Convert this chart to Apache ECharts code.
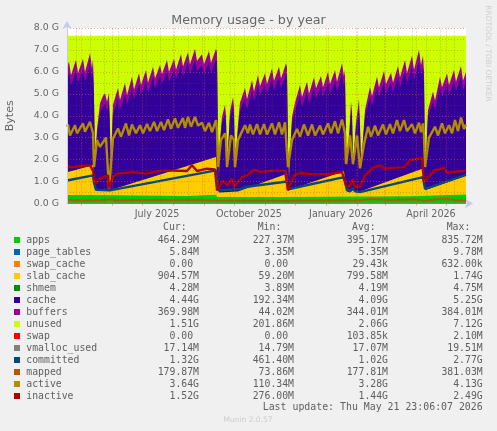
<!DOCTYPE html>
<html>
<head>
<meta charset="utf-8">
<style>
  html, body { margin: 0; padding: 0; background: #f0f0f0; }
  #chart-container { width: 497px; height: 431px; }
</style>
<script src="https://cdn.jsdelivr.net/npm/echarts@6/dist/echarts.min.js"></script>
</head>
<body>
<div id="chart-container"></div>
<script>
// all days below are counted from the left edge of the plot (17 Apr 2025)
const lastDay = 399;

// area boundaries in GiB (top edge of each coloured band)
const topDays = [
  0, 2, 4, 9, 11, 16, 18, 23, 25, 26, 27, 28, 30, 33, 36, 38, 40, 42, 43, 44, 45, 46,
  51, 53, 58, 60, 65, 67, 72, 74, 79, 81, 86, 88, 93, 95, 100, 102, 107, 109, 114, 116,
  121, 123, 128, 130, 135, 137, 142, 144, 149, 150, 151, 152, 153, 155, 158, 159, 160, 161,
  163, 166, 167, 168, 169, 171, 173, 178, 180, 185, 187, 191, 193, 198, 200, 205, 207, 212, 214,
  219, 220, 221, 222, 223, 225, 228, 233, 235, 240, 242, 247, 249, 254, 256, 261, 263, 268, 270,
  275, 277, 278, 279, 280, 281, 282, 284, 285, 286, 287, 289, 292, 293, 294, 295, 296, 298,
  303, 305, 310, 312, 317, 319, 324, 326, 331, 333, 338, 340, 345, 347, 352, 354, 356, 357,
  358, 359, 360, 361, 366, 368, 373, 375, 380, 382, 387, 389, 394, 396, 399
];
const buffersTop = [
  6.15, 6.47, 5.85, 6.55, 5.95, 6.6, 6.0, 6.85, 6.15, 6.6, 5.0, 1.85, 3.4, 4.57, 4.9, 5.02, 4.64, 5.02, 3.5, 0.8, 3.4, 4.5,
  5.26, 4.72, 5.49, 4.95, 5.78, 5.2, 5.94, 5.4, 6.08, 5.5, 6.23, 5.7, 6.31, 5.9, 6.54, 6.0, 6.6, 6.1, 6.8, 6.25,
  6.9, 6.35, 7.05, 6.5, 6.8, 6.35, 6.95, 6.4, 7.05, 6.9, 3.0, 1.0, 2.9, 3.96, 4.5, 4.0, 1.6, 1.6,
  4.2, 4.84, 4.4, 1.6, 1.6, 3.6, 4.6, 5.26, 4.75, 5.62, 5.1, 5.86, 5.35, 5.94, 5.45, 6.17, 5.6, 6.23, 5.7,
  6.39, 6.2, 2.6, 0.9, 2.3, 3.96, 4.6, 5.4, 4.85, 5.55, 5.0, 5.76, 5.25, 5.81, 5.3, 6.0, 5.45, 6.08, 5.55,
  6.39, 5.8, 6.08, 2.5, 1.7, 1.7, 3.0, 4.64, 4.2, 1.7, 1.7, 3.7, 4.76, 3.6, 1.6, 1.6, 3.0, 4.26,
  5.32, 4.9, 5.78, 5.3, 6.04, 5.45, 5.96, 5.5, 6.27, 5.75, 6.54, 5.95, 6.74, 6.1, 7.0, 6.3, 6.74, 6.0,
  1.9, 1.6, 3.2, 4.26, 5.1, 4.7, 5.78, 5.3, 5.93, 5.4, 6.08, 5.55, 6.27, 5.6, 6.0
];
const cacheTop = [
  5.7, 5.95, 5.4, 6.05, 5.5, 6.1, 5.55, 6.35, 5.7, 6.1, 4.6, 1.75, 3.15, 4.1, 4.45, 4.55, 4.2, 4.55, 3.3, 0.75, 3.2, 4.05,
  4.8, 4.25, 5.0, 4.5, 5.3, 4.75, 5.45, 4.95, 5.6, 5.05, 5.75, 5.25, 5.85, 5.45, 6.05, 5.55, 6.1, 5.65, 6.3, 5.8,
  6.4, 5.9, 6.55, 6.05, 6.3, 5.9, 6.45, 5.95, 6.55, 6.45, 2.85, 0.95, 2.7, 3.7, 4.05, 3.75, 1.55, 1.55,
  3.95, 4.4, 4.0, 1.55, 1.55, 3.35, 4.2, 4.8, 4.3, 5.15, 4.65, 5.4, 4.9, 5.45, 5.0, 5.7, 5.15, 5.75, 5.25,
  5.9, 5.75, 2.45, 0.85, 2.15, 3.7, 4.2, 4.95, 4.4, 5.1, 4.55, 5.3, 4.8, 5.35, 4.85, 5.5, 5.0, 5.6, 5.1,
  5.9, 5.35, 5.6, 2.35, 1.65, 1.65, 2.8, 4.2, 3.95, 1.65, 1.65, 3.45, 4.3, 3.4, 1.55, 1.55, 2.8, 3.95,
  4.85, 4.45, 5.3, 4.85, 5.55, 5.0, 5.5, 5.05, 5.8, 5.3, 6.05, 5.5, 6.25, 5.65, 6.5, 5.85, 6.25, 5.55,
  1.8, 1.55, 3.0, 3.95, 4.65, 4.25, 5.3, 4.85, 5.45, 4.95, 5.6, 5.1, 5.8, 5.15, 5.55
];
const slabDays = [0, 26, 27, 28, 43, 45, 149, 150, 151, 152, 171, 173, 220, 221, 223, 277, 278, 279, 293, 295, 356, 357, 358, 399];
const slabTop = [1.43, 1.74, 1.7, 0.62, 0.6, 0.55, 2.12, 2.12, 0.6, 0.5, 0.55, 0.62, 1.36, 0.6, 0.55, 1.47, 1.47, 0.65, 0.55, 0.55, 1.59, 1.59, 0.6, 1.28];
const appsDays = [0, 27, 28, 120, 121, 149, 150, 220, 221, 343, 344, 399];
const appsTop = [0.39, 0.39, 0.32, 0.34, 0.4, 0.4, 0.3, 0.3, 0.33, 0.33, 0.41, 0.41];
const unusedDays = [0, 399];
const unusedTop = [7.65, 7.65];

// bands too thin to see, they sit under apps as in the reference
const thinDays = [0, 130, 270, 399];
const pageTables = [0.005, 0.006, 0.005, 0.006];
const swapCache = [0, 0, 0, 0];
const shmem = [0.004, 0.004, 0.004, 0.004];
const swapUsed = [0, 0, 0, 0];
const vmallocUsed = [0.017, 0.017, 0.016, 0.017];

// lines
const committedDays = [0, 26, 27, 29, 43, 45, 149, 150, 152, 173, 178, 220, 221, 223, 277, 279, 280, 283, 286, 288, 293, 295, 356, 358, 399];
const committed = [1.05, 1.28, 0.95, 0.62, 0.6, 0.62, 1.51, 1.2, 0.6, 0.66, 0.75, 1.0, 0.65, 0.67, 1.2, 0.8, 0.6, 0.55, 0.7, 0.55, 0.52, 0.58, 1.2, 0.67, 1.31];
const mappedDays = [0, 13, 33, 45, 48, 73, 133, 150, 193, 221, 233, 293, 305, 325, 347, 358, 370, 383, 388, 399];
const mapped = [0.17, 0.14, 0.15, 0.19, 0.15, 0.16, 0.17, 0.12, 0.13, 0.11, 0.14, 0.15, 0.21, 0.16, 0.19, 0.13, 0.19, 0.2, 0.15, 0.13];
const activeDays = [
  0, 1, 3, 8, 10, 16, 18, 23, 26, 27, 29, 30, 33, 39, 41, 42, 43, 45, 46, 51, 54, 59, 62, 65, 69, 73, 76, 80, 83, 87, 90,
  94, 97, 101, 104, 108, 111, 116, 118, 121, 124, 128, 131, 135, 138, 142, 145, 149, 150, 151, 152, 154, 158, 159, 160, 161,
  164, 166, 167, 168, 169, 171, 178, 181, 183, 186, 190, 193, 197, 200, 205, 208, 212, 215, 218, 221, 222, 225, 230, 233, 237, 241,
  245, 248, 253, 256, 261, 264, 268, 271, 275, 278, 279, 280, 283, 285, 286, 287, 290, 292, 293, 294, 297, 301, 304, 308, 311,
  316, 319, 323, 326, 330, 333, 337, 340, 345, 348, 352, 354, 356, 357, 358, 359, 362, 368, 371, 375, 378, 382, 385, 388, 391, 394, 397, 399
];
const active = [
  3.5, 3.6, 3.1, 3.57, 3.2, 3.65, 3.27, 3.72, 3.2, 1.66, 1.66, 2.9, 2.58, 3.0, 3.0, 0.67, 0.67, 2.4, 2.96, 3.42, 3.05, 3.65, 3.1, 3.6, 3.2, 3.57, 3.2, 3.62, 3.3, 3.72, 3.3,
  3.72, 3.35, 3.83, 3.4, 3.88, 3.45, 3.9, 3.45, 3.95, 3.5, 3.95, 3.55, 3.68, 3.3, 3.68, 3.25, 3.8, 3.3, 1.66, 1.66, 2.9, 3.2, 2.9, 1.66, 1.66,
  3.1, 3.1, 2.9, 1.66, 1.66, 2.9, 3.57, 3.2, 3.6, 3.15, 3.62, 3.15, 3.62, 3.15, 3.65, 3.15, 3.7, 3.15, 3.7, 1.66, 1.66, 2.9, 3.4, 3.05, 3.6, 3.1,
  3.6, 3.1, 3.55, 3.15, 3.65, 3.2, 3.75, 3.2, 3.83, 3.2, 1.8, 1.8, 3.1, 3.1, 1.8, 1.8, 3.1, 3.1, 1.6, 1.6, 2.7, 3.5, 3.05, 3.55, 3.1,
  3.6, 3.15, 3.62, 3.2, 3.8, 3.3, 3.8, 3.3, 3.62, 3.2, 3.68, 3.25, 3.65, 3.1, 1.66, 1.66, 3.0, 3.5, 3.1, 3.65, 3.2, 3.57, 3.2, 3.8, 3.3, 3.92, 3.4, 3.6
];
const inactiveDays = [
  0, 5, 7, 13, 23, 26, 28, 33, 41, 42, 43, 46, 50, 66, 80, 93, 106, 120, 125, 130, 140, 148, 150, 156, 160, 165, 167, 175,
  180, 187, 193, 207, 218, 221, 227, 233, 247, 260, 275, 279, 282, 286, 288, 293, 298, 307, 313, 317, 337, 343, 355, 357, 367, 377, 380, 399
];
const inactive = [
  1.71, 1.65, 1.73, 1.7, 1.74, 1.5, 0.9, 1.13, 1.28, 0.7, 0.75, 1.2, 1.36, 1.43, 1.36, 1.5, 1.5, 1.48, 1.74, 1.48, 1.59, 1.55, 0.6, 1.05, 0.82, 1.13, 0.75, 1.2,
  1.28, 1.54, 1.43, 1.5, 1.5, 0.6, 1.28, 1.39, 1.33, 1.33, 1.43, 0.82, 0.75, 1.13, 0.75, 0.78, 1.28, 1.66, 1.74, 1.59, 1.66, 1.97, 2.08, 0.98, 1.5, 1.62, 1.4, 1.5
];

// x axis marks
const monthDays = [14, 45, 75, 106, 137, 167, 198, 228, 259, 290, 318, 349, 379];
const fortnightDays = [9, 23, 37, 51, 65, 79, 93, 107, 121, 135, 149, 163, 177, 191, 205, 219, 233, 247, 261, 275, 289, 303, 317, 331, 345, 359, 373, 387];
const quarterDays = [90, 182, 274, 364];
const quarterLabels = ["July 2025", "October 2025", "January 2026", "April 2026"];

// legend table
const fieldNames = ["apps", "page_tables", "swap_cache", "slab_cache", "shmem", "cache", "buffers", "unused", "swap", "vmalloc_used", "committed", "mapped", "active", "inactive"];
const fieldColors = ["#00cc00", "#0066b3", "#ff8000", "#ffcc00", "#008f00", "#330099", "#990099", "#ccff00", "#ff0000", "#808080", "#00487d", "#b35a00", "#b38f00", "#b30000"];
const curValues = ["464.29M", "5.84M", "0.00 ", "904.57M", "4.28M", "4.44G", "369.98M", "1.51G", "0.00 ", "17.14M", "1.32G", "179.87M", "3.64G", "1.52G"];
const minValues = ["227.37M", "3.35M", "0.00 ", "59.20M", "3.89M", "192.34M", "44.02M", "201.86M", "0.00 ", "14.79M", "461.40M", "73.86M", "110.34M", "276.00M"];
const avgValues = ["395.17M", "5.35M", "29.43k", "799.58M", "4.19M", "4.09G", "344.01M", "2.06G", "103.85k", "17.07M", "1.02G", "177.81M", "3.28G", "1.44G"];
const maxValues = ["835.72M", "9.78M", "632.00k", "1.74G", "4.75M", "5.25G", "384.01M", "7.12G", "2.10M", "19.51M", "2.77G", "381.03M", "4.13G", "2.49G"];

function points(days, values) {
  return days.map(function (d, i) {
    return [d, values[i]];
  });
}
function areaSeries(name, days, values, color) {
  return {
    name: name,
    type: "line",
    data: points(days, values),
    showSymbol: false,
    sampling: "none",
    lineStyle: { width: 0 },
    itemStyle: { color: color },
    areaStyle: { color: color, opacity: 1 },
  };
}
function lineSeries(name, days, values, color, width) {
  return {
    name: name,
    type: "line",
    data: points(days, values),
    showSymbol: false,
    lineStyle: { width: width, color: color },
    itemStyle: { color: color },
  };
}

const monoFont = "'DejaVu Sans Mono', monospace";
const graphics = [];
function addText(x, y, text, align, size, color, family, rotation) {
  graphics.push({
    type: "text",
    x: x,
    y: y,
    rotation: rotation || 0,
    silent: true,
    style: {
      text: text,
      fill: color,
      font: size + "px " + family,
      textAlign: align,
      textVerticalAlign: "middle",
    },
  });
}

const rowTop = 240;
const rowStep = 12;
const textColor = "#5f5f5f";
addText(163, 227.5, "Cur:", "left", 9.8, textColor, monoFont);
addText(257.7, 227.5, "Min:", "left", 9.8, textColor, monoFont);
addText(352, 227.5, "Avg:", "left", 9.8, textColor, monoFont);
addText(446.7, 227.5, "Max:", "left", 9.8, textColor, monoFont);
fieldNames.forEach(function (name, i) {
  const y = rowTop + i * rowStep;
  graphics.push({
    type: "rect",
    silent: true,
    shape: { x: 14, y: y - 3, width: 6, height: 6 },
    style: { fill: fieldColors[i] },
  });
  addText(26.3, y, name, "left", 9.8, textColor, monoFont);
  addText(199, y, curValues[i], "right", 9.8, textColor, monoFont);
  addText(294, y, minValues[i], "right", 9.8, textColor, monoFont);
  addText(388, y, avgValues[i], "right", 9.8, textColor, monoFont);
  addText(482.7, y, maxValues[i], "right", 9.8, textColor, monoFont);
});
addText(482.7, 407.7, "Last update: Thu May 21 23:06:07 2026", "right", 9.9, textColor, monoFont);
addText(248, 420, "Munin 2.0.57", "center", 7.5, "#cccccc", "'DejaVu Sans'");
addText(487.7, 53.5, "RRDTOOL / TOBI OETIKER", "center", 7.5, "#cfcfcf", "'DejaVu Sans'", -Math.PI / 2);

const vLines = [];
fortnightDays.forEach(function (d) {
  vLines.push({ xAxis: d, lineStyle: { color: "rgba(90,90,90,0.35)", type: [1, 2], width: 1 } });
});
monthDays.forEach(function (d) {
  vLines.push({ xAxis: d, lineStyle: { color: "rgba(240,90,70,0.5)", type: [1, 2], width: 1 } });
});

const inactiveSeries = lineSeries("inactive", inactiveDays, inactive, "#b30000", 2.4);
inactiveSeries.markLine = {
  silent: true,
  symbol: "none",
  animation: false,
  label: { show: false },
  data: vLines,
};

var dom = document.getElementById("chart-container");
var myChart = echarts.init(dom, null, { renderer: "canvas" });

var option = {
  animation: false,
  backgroundColor: "#f0f0f0",
  textStyle: { fontFamily: "'DejaVu Sans'" },
  title: {
    text: "Memory usage - by year",
    left: 248.5,
    top: 14,
    padding: 0,
    textAlign: "center",
    textStyle: { color: "#666666", fontSize: 12.7, fontWeight: "normal", fontFamily: "'DejaVu Sans'" },
  },
  grid: {
    left: 67,
    right: 31,
    top: 28,
    height: 175.5,
    show: true,
    backgroundColor: "#ffffff",
    borderWidth: 0,
    outerBoundsMode: "none",
  },
  xAxis: {
    type: "value",
    min: 0,
    max: lastDay,
    z: 1,
    axisLine: {
      lineStyle: { color: "#c4cbe8", width: 1 },
      symbol: ["none", "arrow"],
      symbolSize: [7, 8],
      symbolOffset: [0, 7],
    },
    axisTick: {
      length: 2,
      lineStyle: { color: "#f0a090" },
      customValues: monthDays,
    },
    axisLabel: {
      color: "#666666",
      fontSize: 9.6,
      fontFamily: "'DejaVu Sans'",
      margin: 6,
      customValues: quarterDays,
      formatter: function (value) {
        return quarterLabels[quarterDays.indexOf(value)];
      },
    },
    splitLine: { show: false },
  },
  yAxis: {
    type: "value",
    min: 0,
    max: 8,
    interval: 1,
    z: 5,
    name: "Bytes",
    nameLocation: "middle",
    nameGap: 51,
    nameTextStyle: { color: "#666666", fontSize: 11, fontFamily: "'DejaVu Sans'" },
    axisLine: {
      show: true,
      lineStyle: { color: "#c4cbe8", width: 1 },
      symbol: ["none", "arrow"],
      symbolSize: [7, 8],
      symbolOffset: [0, 7],
    },
    axisTick: { show: false },
    axisLabel: {
      color: "#666666",
      fontSize: 9.4,
      fontFamily: "'DejaVu Sans'",
      margin: 8,
      formatter: function (value) {
        return value.toFixed(1) + " G";
      },
    },
    splitLine: { show: true, lineStyle: { color: "rgba(240,90,70,0.5)", type: [1, 2], width: 1 } },
    minorTick: { show: false, splitNumber: 2 },
    minorSplitLine: { show: true, lineStyle: { color: "rgba(90,90,90,0.35)", type: [1, 2], width: 1 } },
  },
  series: [
    areaSeries("unused", unusedDays, unusedTop, "#ccff00"),
    areaSeries("buffers", topDays, buffersTop, "#990099"),
    areaSeries("cache", topDays, cacheTop, "#330099"),
    areaSeries("slab_cache", slabDays, slabTop, "#ffcc00"),
    areaSeries("swap_cache", thinDays, swapCache, "#ff8000"),
    areaSeries("apps", appsDays, appsTop, "#00cc00"),
    areaSeries("shmem", thinDays, shmem, "#008f00"),
    areaSeries("page_tables", thinDays, pageTables, "#0066b3"),
    lineSeries("swap", thinDays, swapUsed, "#ff0000", 0),
    lineSeries("vmalloc_used", thinDays, vmallocUsed, "#808080", 1),
    lineSeries("committed", committedDays, committed, "#00487d", 2.4),
    lineSeries("mapped", mappedDays, mapped, "#b35a00", 2),
    lineSeries("active", activeDays, active, "#b38f00", 2.4),
    inactiveSeries,
  ],
  graphic: graphics,
};

if (option && typeof option === "object") {
  myChart.setOption(option);
}

window.addEventListener("resize", myChart.resize);
</script>
</body>
</html>
